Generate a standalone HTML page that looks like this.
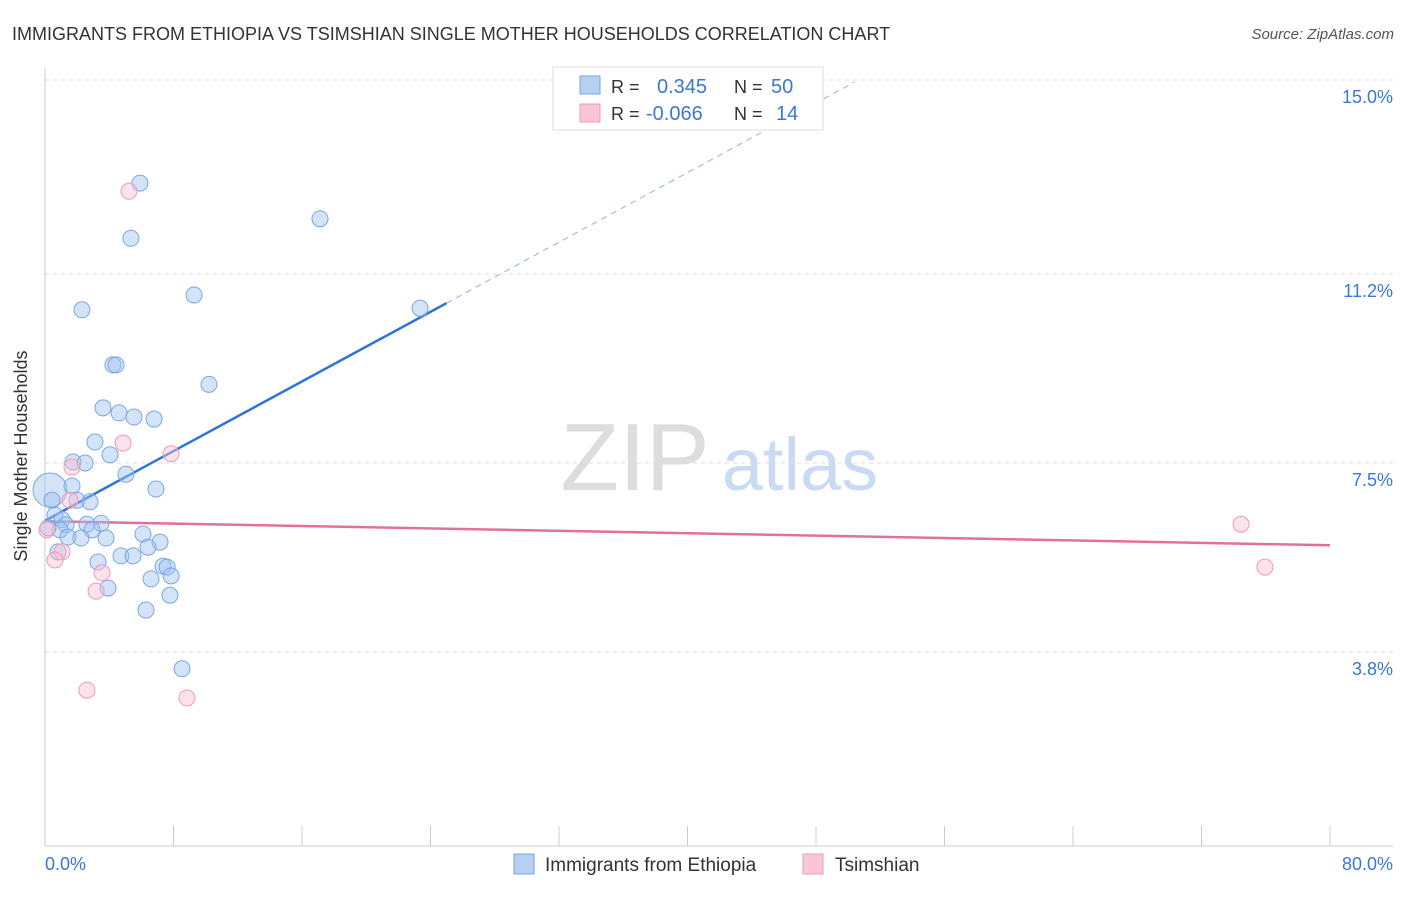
<!DOCTYPE html>
<html><head><meta charset="utf-8">
<style>
body{margin:0;background:#fff;font-family:"Liberation Sans",sans-serif;}
svg text{font-family:"Liberation Sans",sans-serif;}
</style></head>
<body>
<svg id="chart" width="1406" height="892" xmlns="http://www.w3.org/2000/svg">
<text x="12" y="40" font-size="18" fill="#333">IMMIGRANTS FROM ETHIOPIA VS TSIMSHIAN SINGLE MOTHER HOUSEHOLDS CORRELATION CHART</text>
<text x="1394" y="39" font-size="15" fill="#555" text-anchor="end" font-style="italic">Source: ZipAtlas.com</text>
<g>
<text x="635" y="490" font-size="96" fill="#ddd" text-anchor="middle" font-family="Liberation Serif,serif">ZIP</text>
<text x="800" y="490" font-size="74" fill="#c9daf2" text-anchor="middle">atlas</text>
</g>
<g id="grid"></g>
<g id="axes"></g>
<g id="lines"></g>
<g id="points"></g>
<text x="27" y="456" font-size="18" fill="#333" text-anchor="middle" transform="rotate(-90 27 456)">Single Mother Households</text>
<text x="45" y="870" font-size="18" fill="#3a78d4">0.0%</text>
<text x="1393" y="870" font-size="18" fill="#3a78d4" text-anchor="end">80.0%</text>
<g>
<rect x="553" y="67" width="270" height="63" fill="#fff" stroke="#ddd"/>
<rect x="580" y="76" width="20" height="18" fill="#b6d0f3" stroke="#7aa7e0"/>
<rect x="580" y="104" width="20" height="18" fill="#f9c6d6" stroke="#f09ab5"/>
<text x="611" y="93" font-size="18" fill="#333">R = </text><text x="657" y="93" font-size="20" fill="#3a78d4">0.345</text>
<text x="734" y="93" font-size="18" fill="#333">N = </text><text x="771" y="93" font-size="20" fill="#3a78d4">50</text>
<text x="611" y="120" font-size="18" fill="#333">R = </text><text x="646" y="120" font-size="20" fill="#3a78d4">-0.066</text>
<text x="734" y="120" font-size="18" fill="#333">N = </text><text x="776" y="120" font-size="20" fill="#3a78d4">14</text>
</g>
<g>
<rect x="514" y="854" width="20" height="20" fill="#b6d0f3" stroke="#7aa7e0"/>
<text x="545" y="871" font-size="19" fill="#333">Immigrants from Ethiopia</text>
<rect x="803" y="854" width="20" height="20" fill="#f9c6d6" stroke="#f09ab5"/>
<text x="835" y="871" font-size="19" fill="#333">Tsimshian</text>
</g>
</svg>
<script>
const yTicks=[3.8,7.5,11.2,15.0];
const yTickLabels=["3.8%","7.5%","11.2%","15.0%"];
const blueX=[5.91,17.12,5.35,9.28,2.30,23.35,4.23,4.42,10.21,3.61,4.61,5.54,6.79,3.11,4.05,1.74,2.49,5.04,1.68,6.91,1.99,2.80,0.44,0.62,1.06,1.31,0.93,3.49,2.61,2.93,6.10,1.43,2.24,3.80,7.16,6.41,0.81,4.73,5.48,3.30,7.35,7.60,7.85,6.60,3.92,7.78,6.29,8.53,0.19];
const blueY=[12.98,12.28,11.90,10.79,10.50,10.53,9.42,9.42,9.04,8.58,8.48,8.40,8.36,7.91,7.66,7.52,7.50,7.28,7.05,6.99,6.77,6.74,6.77,6.48,6.39,6.29,6.19,6.32,6.30,6.19,6.11,6.05,6.03,6.03,5.95,5.85,5.76,5.68,5.68,5.56,5.48,5.46,5.29,5.23,5.05,4.91,4.62,3.47,6.23];
const bigX=[0.31], bigY=[6.97];
const pinkX=[5.23,1.68,4.86,7.85,1.56,0.12,1.06,0.62,3.55,3.18,2.61,8.84,74.46,75.95];
const pinkY=[12.82,7.42,7.89,7.68,6.77,6.19,5.76,5.60,5.35,4.99,3.05,2.90,6.30,5.46];
const blueFit=[6.37,0.1704], pinkFit=[6.36,-0.0059];
const NS="http://www.w3.org/2000/svg";
const X=v=>45+v/80*1285, Y=v=>846-v*51.07;
function mk(t,a,p){const e=document.createElementNS(NS,t);for(const k in a)e.setAttribute(k,a[k]);document.getElementById(p).appendChild(e);return e;}
yTicks.forEach((t,i)=>{
 const g=mk('line',{x1:45,x2:1393,y1:Y(t),y2:Y(t),stroke:'#ddd','stroke-dasharray':'4,4'},'grid');
 
 
 const tx=mk('text',{x:1393,y:Y(t)+23,'font-size':18,fill:'#3a78d4','text-anchor':'end'},'grid');
 tx.textContent=yTickLabels[i];
 
 
});
const ax=mk('line',{x1:45,x2:45,y1:68,y2:846,stroke:'#ccc'},'axes');


const bx=mk('line',{x1:45,x2:1393,y1:846,y2:846,stroke:'#ccc'},'axes');


for(let i=0;i<=10;i++){const t=mk('line',{x1:X(i*8),x2:X(i*8),y1:826,y2:846,stroke:'#ccc'},'axes');
 
 }
function dot(x,y,r,f,s,n){const c=mk('circle',{cx:X(x),cy:Y(y),r:r,fill:f,stroke:s,'stroke-width':1},'points');
 
 }
bigX.forEach((x,i)=>dot(x,bigY[i],17,'rgba(160,196,240,0.45)','#7aa7e0','ethiopia-point'));
blueX.forEach((x,i)=>dot(x,blueY[i],8,'rgba(160,196,240,0.45)','#7aa7e0','ethiopia-point'));
pinkX.forEach((x,i)=>dot(x,pinkY[i],8,'rgba(249,190,210,0.45)','#f09ab5','tsimshian-point'));
let l=mk('line',{x1:X(0),y1:Y(blueFit[0]),x2:X(25),y2:Y(blueFit[0]+blueFit[1]*25),stroke:'#2f74d6','stroke-width':2.5},'lines');


l=mk('line',{x1:X(25),y1:Y(blueFit[0]+blueFit[1]*25),x2:X(50.4),y2:Y(blueFit[0]+blueFit[1]*50.4),stroke:'#8fb2e0','stroke-width':1,'stroke-dasharray':'6,5'},'lines');


l=mk('line',{x1:X(0),y1:Y(pinkFit[0]),x2:X(80),y2:Y(pinkFit[0]+pinkFit[1]*80),stroke:'#e3709a','stroke-width':2.5},'lines');


</script>
</body></html>
